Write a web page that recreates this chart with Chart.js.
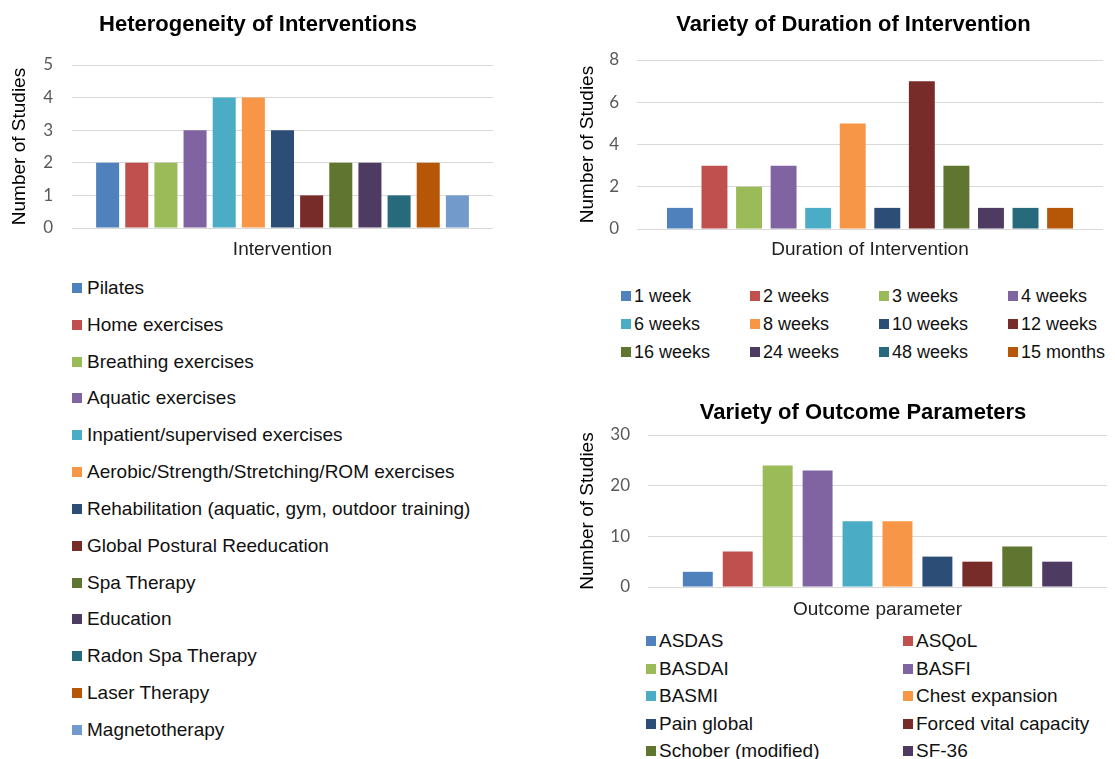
<!DOCTYPE html>
<html>
<head>
<meta charset="utf-8">
<script src="https://cdn.jsdelivr.net/npm/chart.js@4.4.1/dist/chart.umd.min.js"></script>
<style>
  body { margin: 0; background: #fff; width: 1115px; height: 759px; position: relative; overflow: hidden; }
  .box { position: absolute; }
  .legend { position: absolute; left: 0; top: 0; font-family: "Liberation Sans", Arial, sans-serif; font-size: 19px; color: #111; white-space: nowrap; }
  .legend .sw { position: absolute; width: 10px; height: 10px; }
  .legend .tx { position: absolute; line-height: 22px; }
</style>
</head>
<body>
<div class="box" style="left:0;top:0;width:520px;height:265px"><canvas id="chartInterventions"></canvas></div>
<div class="box" style="left:560px;top:0;width:555px;height:265px"><canvas id="chartDuration"></canvas></div>
<div class="box" style="left:560px;top:390px;width:555px;height:240px"><canvas id="chartOutcome"></canvas></div>
<div id="legendInterventions" class="legend"></div>
<div id="legendDuration" class="legend" style="font-size:18px"></div>
<div id="legendOutcome" class="legend"></div>
<script>
const palette = ["#4F81BD", "#C0504D", "#9BBB59", "#8064A2", "#4BACC6", "#F79646",
                 "#2C4D75", "#772C2A", "#5F7530", "#4D3B62", "#276A7C", "#B65708", "#729ACA"];

const interventionNames = ["Pilates", "Home exercises", "Breathing exercises", "Aquatic exercises",
  "Inpatient/supervised exercises", "Aerobic/Strength/Stretching/ROM exercises",
  "Rehabilitation (aquatic, gym, outdoor training)", "Global Postural Reeducation", "Spa Therapy",
  "Education", "Radon Spa Therapy", "Laser Therapy", "Magnetotherapy"];
const interventionCounts = [2, 2, 2, 3, 4, 4, 3, 1, 2, 2, 1, 2, 1];

const durationNames = ["1 week", "2 weeks", "3 weeks", "4 weeks", "6 weeks", "8 weeks",
  "10 weeks", "12 weeks", "16 weeks", "24 weeks", "48 weeks", "15 months"];
const durationCounts = [1, 3, 2, 3, 1, 5, 1, 7, 3, 1, 1, 1];

const outcomeNames = ["ASDAS", "ASQoL", "BASDAI", "BASFI", "BASMI", "Chest expansion",
  "Pain global", "Forced vital capacity", "Schober (modified)", "SF-36"];
const outcomeCounts = [3, 7, 24, 23, 13, 13, 6, 5, 8, 5];

const tickFont = { family: "Lato, 'Open Sans', sans-serif", size: 17 };
const sansFont = "'Liberation Sans', Arial, sans-serif";

// the original titles sit a little right of the canvas centre, so nudge the title box
const titleShift = {
    id: "titleShift",
    afterLayout(chart, args, opts) {
        const t = chart.titleBlock;
        if (t && opts.dx) {
            t.left += opts.dx;
            t.right += opts.dx;
        }
    }
};

function makeChart(id, o) {
    const datasets = o.names.map((name, i) => ({
        label: name,
        data: [o.counts[i]],
        backgroundColor: palette[i],
        categoryPercentage: o.catPct,
        barPercentage: o.barPct
    }));
    return new Chart(document.getElementById(id), {
        type: "bar",
        data: { labels: [""], datasets },
        plugins: [titleShift],
        options: {
            responsive: true,
            maintainAspectRatio: false,
            animation: false,
            layout: { padding: o.pad },
            plugins: {
                legend: { display: false },
                tooltip: { enabled: false },
                titleShift: { dx: o.titleDx },
                title: {
                    display: true,
                    text: o.title,
                    color: "#000",
                    font: { family: sansFont, size: 22, weight: "bold", lineHeight: 1.2 },
                    padding: o.titlePad
                }
            },
            scales: {
                x: {
                    grid: { display: false },
                    border: { display: false },
                    ticks: { display: false },
                    title: {
                        display: true,
                        text: o.xTitle,
                        color: "#222",
                        font: { family: sansFont, size: 19, lineHeight: 1.2 },
                        padding: { top: 0, bottom: o.xTitlePad }
                    },
                    afterFit: s => { s.height = o.xHeight; }
                },
                y: {
                    min: 0,
                    max: o.max,
                    ticks: { stepSize: o.step, color: "#595959", font: tickFont, padding: o.tickPad },
                    grid: { color: "#D9D9D9", drawTicks: false },
                    border: { display: false },
                    title: {
                        display: true,
                        text: "Number of Studies",
                        color: "#000",
                        font: { family: sansFont, size: 19, lineHeight: 1.2 },
                        padding: { top: o.yTitlePad, bottom: 0 }
                    },
                    afterFit: s => { s.width = o.yWidth; }
                }
            }
        }
    });
}

makeChart("chartInterventions", {
    names: interventionNames, counts: interventionCounts, title: "Heterogeneity of Interventions",
    xTitle: "Intervention", max: 5, step: 1, catPct: 0.90, barPct: 0.79, titleDx: 11.5,
    pad: { left: 0, right: 27, top: 0, bottom: 0 }, titlePad: { top: 11.8, bottom: 26.8 },
    xHeight: 37, xTitlePad: 3.6, yWidth: 72, tickPad: 19, yTitlePad: 8.6
});
makeChart("chartDuration", {
    names: durationNames, counts: durationCounts, title: "Variety of Duration of Intervention",
    xTitle: "Duration of Intervention", max: 8, step: 2, catPct: 0.89, barPct: 0.75, titleDx: 22,
    pad: { left: 0, right: 12, top: 0, bottom: 0 }, titlePad: { top: 11.8, bottom: 21.8 },
    xHeight: 36, xTitlePad: 3.6, yWidth: 77, tickPad: 18, yTitlePad: 16.6
});
makeChart("chartOutcome", {
    names: outcomeNames, counts: outcomeCounts, title: "Variety of Outcome Parameters",
    xTitle: "Outcome parameter", max: 30, step: 10, catPct: 0.87, barPct: 0.75, titleDx: 29.5,
    pad: { left: 0, right: 8, top: 0, bottom: 0 }, titlePad: { top: 9.8, bottom: 8.8 },
    xHeight: 43, xTitlePad: 8.6, yWidth: 88, tickPad: 18, yTitlePad: 16.6
});

// html legends, laid out in fixed columns like the original figure
function buildLegend(id, names, cols, x0, y0, colW, rowH, gap) {
    const el = document.getElementById(id);
    names.forEach((name, i) => {
        const c = i % cols, r = Math.floor(i / cols);
        const x = x0 + c * colW, y = y0 + r * rowH;
        const sw = document.createElement("div");
        sw.className = "sw";
        sw.style.left = x + "px";
        sw.style.top = (y - 5) + "px";
        sw.style.background = palette[i];
        const tx = document.createElement("div");
        tx.className = "tx";
        tx.style.left = (x + gap) + "px";
        tx.style.top = (y - 11) + "px";
        tx.textContent = name;
        el.appendChild(sw);
        el.appendChild(tx);
    });
}
buildLegend("legendInterventions", interventionNames, 1, 72, 288, 0, 36.83, 15);
buildLegend("legendDuration", durationNames, 4, 621, 295.5, 129, 28, 13);
buildLegend("legendOutcome", outcomeNames, 2, 646, 641, 257, 27.5, 13);
</script>
</body>
</html>
